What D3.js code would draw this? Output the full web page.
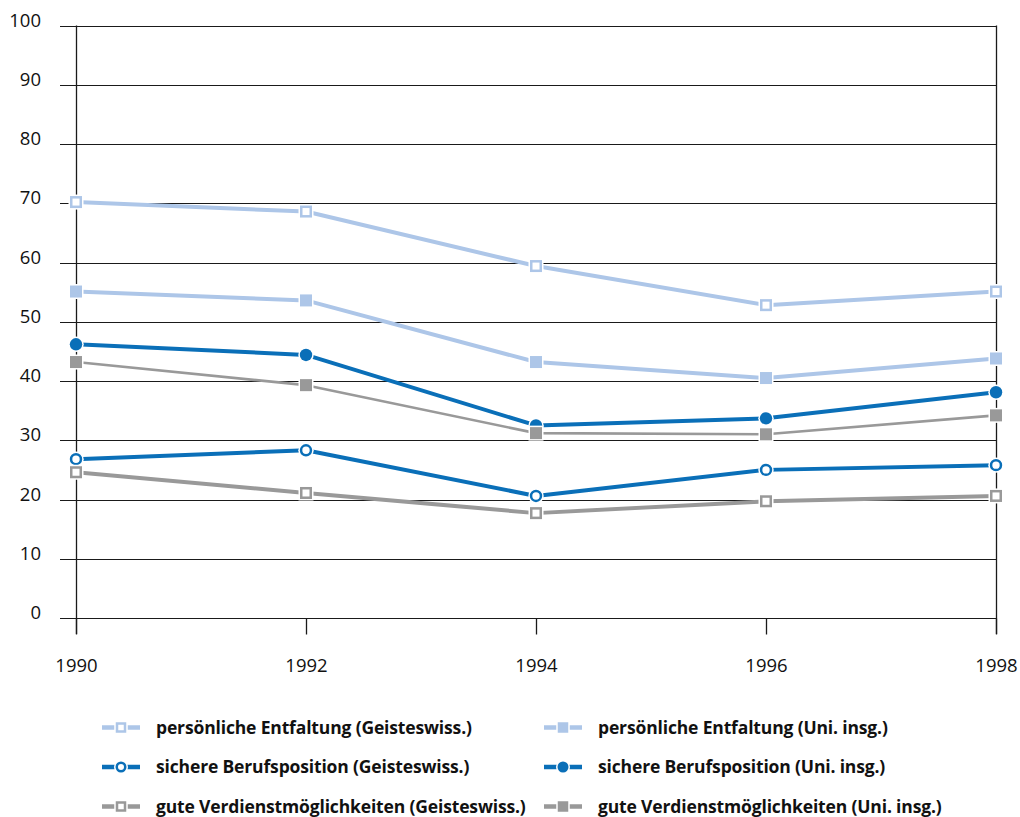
<!DOCTYPE html>
<html>
<head>
<meta charset="utf-8">
<script src="https://cdn.jsdelivr.net/npm/d3@7"></script>
<style>
  html, body { margin: 0; padding: 0; background: #fff; }
  svg { display: block; }
  text { font-family: "Open Sans", "Noto Sans", sans-serif; }
</style>
</head>
<body>
<svg id="chart" width="1020" height="817"></svg>
<script>
const years = [1990, 1992, 1994, 1996, 1998];
const yTicks = [0, 10, 20, 30, 40, 50, 60, 70, 80, 90, 100];

const persGeist = [70.2, 68.6, 59.4, 52.8, 55.1];
const persUni   = [55.1, 53.6, 43.2, 40.5, 43.8];
const sichGeist = [26.8, 28.3, 20.6, 25.0, 25.8];
const sichUni   = [46.2, 44.4, 32.5, 33.7, 38.1];
const gutGeist  = [24.6, 21.1, 17.7, 19.7, 20.6];
const gutUni    = [43.2, 39.3, 31.2, 31.0, 34.2];

const seriesNames = [
  "persönliche Entfaltung (Geisteswiss.)",
  "persönliche Entfaltung (Uni. insg.)",
  "sichere Berufsposition (Geisteswiss.)",
  "sichere Berufsposition (Uni. insg.)",
  "gute Verdienstmöglichkeiten (Geisteswiss.)",
  "gute Verdienstmöglichkeiten (Uni. insg.)"
];

const LIGHT = "#adc6e8", BLUE = "#0a6fb8", GRAY = "#999999";
const series = [
  { name: seriesNames[0], values: persGeist, color: LIGHT, shape: "square", filled: false, width: 4 },
  { name: seriesNames[1], values: persUni,   color: LIGHT, shape: "square", filled: true,  width: 4 },
  { name: seriesNames[2], values: sichGeist, color: BLUE,  shape: "circle", filled: false, width: 4 },
  { name: seriesNames[3], values: sichUni,   color: BLUE,  shape: "circle", filled: true,  width: 4 },
  { name: seriesNames[4], values: gutGeist,  color: GRAY,  shape: "square", filled: false, width: 4 },
  { name: seriesNames[5], values: gutUni,    color: GRAY,  shape: "square", filled: true,  width: 2.6 }
];

const svg = d3.select("#chart");
svg.append("rect").attr("width", 1020).attr("height", 817).attr("fill", "#fff");

const x = d3.scaleLinear().domain([1990, 1998]).range([76, 996]);
const y = d3.scaleLinear().domain([0, 100]).range([618, 25.5]);

// gridlines + y labels
const grid = svg.append("g");
grid.selectAll("line").data(yTicks).join("line")
  .attr("x1", 60).attr("x2", 996)
  .attr("y1", d => Math.round(y(d)) + 0.5).attr("y2", d => Math.round(y(d)) + 0.5)
  .attr("stroke", "#1a1a1a").attr("stroke-width", 1.1);
grid.selectAll("text").data(yTicks).join("text")
  .attr("x", 41).attr("y", d => Math.round(y(d)) + 1)
  .attr("text-anchor", "end")
  .attr("font-size", 18.5).attr("fill", "#111")
  .text(d => d);

// x axis
const xAxis = d3.axisBottom(x).tickValues(years).tickSize(16).tickFormat(d3.format("d")).tickPadding(24);
const gx = svg.append("g").attr("transform", `translate(0,${Math.round(y(0)) + 0.5})`).call(xAxis);
gx.select(".domain").remove();
gx.selectAll(".tick line").attr("stroke", "#1a1a1a").attr("stroke-width", 1.3);
gx.selectAll(".tick text").attr("font-size", 18.5).attr("fill", "#111")
  .attr("font-family", '"Open Sans", sans-serif').attr("dy", "0.71em");

// vertical axes full height
[1990, 1998].forEach(v => {
  svg.append("line")
    .attr("x1", Math.round(x(v)) + 0.5).attr("x2", Math.round(x(v)) + 0.5)
    .attr("y1", y(100)).attr("y2", 634)
    .attr("stroke", "#1a1a1a").attr("stroke-width", 1.3);
});

const line = d3.line().x((d, i) => x(years[i])).y(d => y(d));

function drawMarker(g, cx, cy, s, legend) {
  const sq = legend ? 10.5 : 12;
  const r = legend ? 5.5 : 6.2;
  if (s.shape === "square") {
    g.append("rect").attr("x", cx - sq / 2 - 1.5).attr("y", cy - sq / 2 - 1.5)
      .attr("width", sq + 3).attr("height", sq + 3).attr("fill", "#fff");
    if (s.filled) {
      g.append("rect").attr("x", cx - sq / 2).attr("y", cy - sq / 2)
        .attr("width", sq).attr("height", sq).attr("fill", s.color);
    } else {
      g.append("rect").attr("x", cx - sq / 2 + 1.25).attr("y", cy - sq / 2 + 1.25)
        .attr("width", sq - 2.5).attr("height", sq - 2.5)
        .attr("fill", "#fff").attr("stroke", s.color).attr("stroke-width", 2.5);
    }
  } else {
    g.append("circle").attr("cx", cx).attr("cy", cy).attr("r", r + 1.5).attr("fill", "#fff");
    if (s.filled) {
      g.append("circle").attr("cx", cx).attr("cy", cy).attr("r", r).attr("fill", s.color);
    } else {
      g.append("circle").attr("cx", cx).attr("cy", cy).attr("r", r - 1.25)
        .attr("fill", "#fff").attr("stroke", s.color).attr("stroke-width", 2.5);
    }
  }
}

const plot = svg.append("g");
series.forEach(s => {
  const g = plot.append("g");
  g.append("path").datum(s.values).attr("d", line)
    .attr("fill", "none").attr("stroke", s.color).attr("stroke-width", s.width)
    .attr("stroke-linejoin", "round");
  s.values.forEach((v, i) => drawMarker(g, x(years[i]), y(v), s, false));
});

// legend
const legendRows = [727.5, 767, 806.5];
const legendCols = [{ sx: 102, tx: 156 }, { sx: 544, tx: 598 }];
series.forEach((s, i) => {
  const col = legendCols[i % 2];
  const cy = legendRows[Math.floor(i / 2)];
  const g = svg.append("g");
  g.append("line").attr("x1", col.sx).attr("x2", col.sx + 38)
    .attr("y1", cy).attr("y2", cy).attr("stroke", s.color).attr("stroke-width", 4.5);
  drawMarker(g, col.sx + 19, cy, s, true);
  g.append("text").attr("x", col.tx).attr("y", cy + 6)
    .attr("font-size", 17.5).attr("font-weight", 700).attr("fill", "#111")
    .attr("letter-spacing", "-0.15px")
    .text(s.name);
});
</script>
</body>
</html>
